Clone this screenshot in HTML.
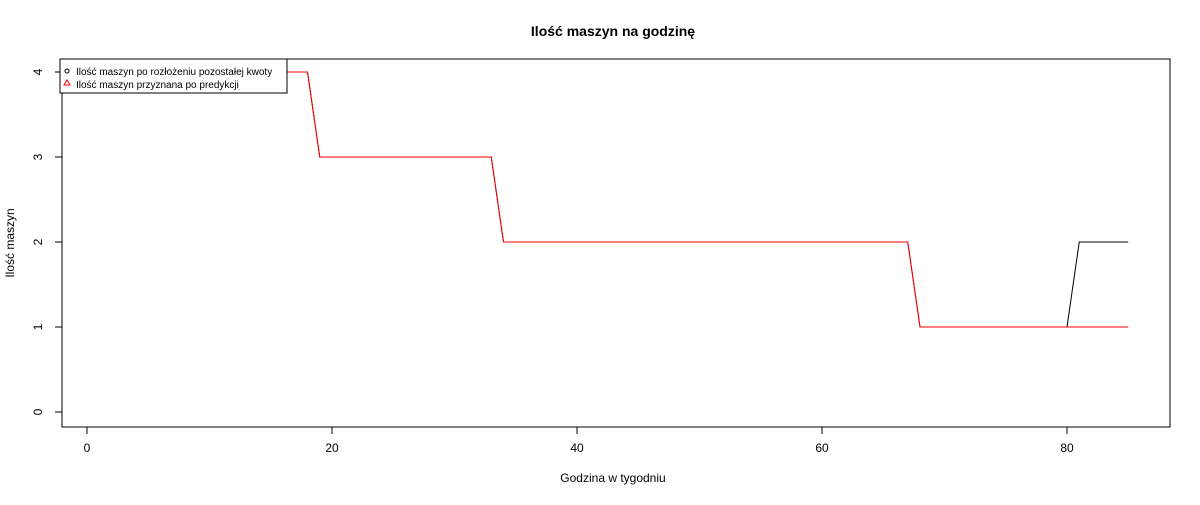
<!DOCTYPE html>
<html><head><meta charset="utf-8"><style>body{margin:0;background:#fff}svg text{font-family:"Liberation Sans",sans-serif}</style></head>
<body>
<svg id="c" width="1200" height="500" xmlns="http://www.w3.org/2000/svg">
<rect width="1200" height="500" fill="#fff"/>
<text x="613" y="36" text-anchor="middle" font-size="14" font-weight="bold">Ilość maszyn na godzinę</text>
<rect x="62" y="59" width="1108" height="368" fill="none" stroke="#000"/>
<text x="613" y="482" text-anchor="middle" font-size="12">Godzina w tygodniu</text>
<text transform="translate(14,243) rotate(-90)" text-anchor="middle" font-size="12">Ilość maszyn</text>
<g id="axes"></g><g id="lines"></g>
<g>
<rect x="60" y="59" width="227" height="34" fill="#fff" stroke="#000"/>
<circle cx="67" cy="71" r="2" fill="none" stroke="#000"/>
<text x="76" y="75" font-size="10">Ilość maszyn po rozłożeniu pozostałej kwoty</text>
<polygon points="67,80 70,85 64,85" fill="none" stroke="red"/>
<text x="76" y="88" font-size="10">Ilość maszyn przyznana po predykcji</text>
</g>
</svg>
<script>
const hours=[];for(let i=0;i<=85;i++)hours.push(i);
const redValues=[4,4,4,4,4,4,4,4,4,4,4,4,4,4,4,4,4,4,4,3,3,3,3,3,3,3,3,3,3,3,3,3,3,3,2,2,2,2,2,2,2,2,2,2,2,2,2,2,2,2,2,2,2,2,2,2,2,2,2,2,2,2,2,2,2,2,2,2,1,1,1,1,1,1,1,1,1,1,1,1,1,1,1,1,1,1];
const blackValues=redValues.map((v,i)=>i>=81?2:v);
const xTicks=[0,20,40,60,80];const yTicks=[0,1,2,3,4];
const X=v=>87+v*12.25, Y=v=>412-v*85;
const NS="http://www.w3.org/2000/svg";
const ax=document.getElementById('axes'), ln=document.getElementById('lines');
function mk(t,a,p){const e=document.createElementNS(NS,t);for(const k in a)e.setAttribute(k,a[k]);p.appendChild(e);return e;}
mk('line',{x1:X(0),x2:X(80),y1:427,y2:427,stroke:'#000'},ax);
xTicks.forEach(t=>{mk('line',{x1:X(t),x2:X(t),y1:427,y2:434,stroke:'#000'},ax);
const e=mk('text',{x:X(t),y:452,'text-anchor':'middle','font-size':12},ax);e.textContent=t;

});
mk('line',{x1:62,x2:62,y1:Y(0),y2:Y(4),stroke:'#000'},ax);
yTicks.forEach(t=>{mk('line',{x1:55,x2:62,y1:Y(t),y2:Y(t),stroke:'#000'},ax);
const e=mk('text',{transform:`translate(42,${Y(t)}) rotate(-90)`,'text-anchor':'middle','font-size':12},ax);e.textContent=t;

});
const b=mk('polyline',{points:hours.map((h,i)=>X(h)+','+Y(blackValues[i])).join(' '),fill:'none',stroke:'#000'},ln);


const r=mk('polyline',{points:hours.map((h,i)=>X(h)+','+Y(redValues[i])).join(' '),fill:'none',stroke:'red'},ln);


</script>
</body></html>
